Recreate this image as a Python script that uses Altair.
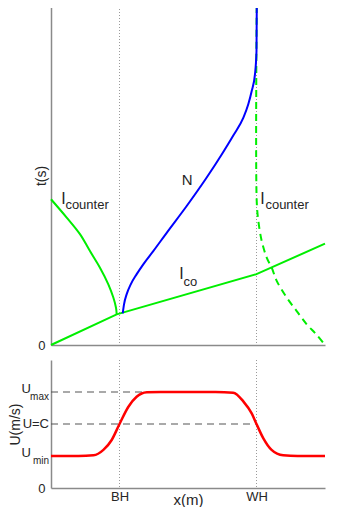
import altair as alt
import pandas as pd

# ---------------- data ----------------
# top panel (x in m, t in s)
icl_x = [0.0, 0.229, 0.423, 0.569, 0.715, 0.837, 0.910, 0.949, 0.959]
icl_t = [4.30, 3.76, 3.27, 2.77, 2.28, 1.79, 1.40, 1.10, 0.905]

ico_x = [0.0, 0.959, 3.0, 4.0]
ico_t = [0.0, 0.905, 2.09, 2.99]

n_x = [1.047, 1.066, 1.105, 1.164, 1.251, 1.347, 1.493, 1.689, 1.981, 2.273,
       2.492, 2.661, 2.807, 2.880, 2.930, 2.978, 3.0, 3.004]
n_t = [0.935, 1.20, 1.50, 1.79, 2.09, 2.38, 2.77, 3.31, 4.10, 4.94,
       5.62, 6.18, 6.70, 7.10, 7.49, 7.99, 8.67, 10.0]

icr_x = [3.003, 3.003, 3.027, 3.076, 3.149, 3.222, 3.295, 3.441, 3.587, 3.733, 3.879, 4.0]
icr_t = [10.0, 4.25, 3.66, 3.07, 2.58, 2.28, 1.89, 1.40, 1.00, 0.61, 0.30, 0.0]

# bottom panel (x in m, U in m/s)
red_x = [0.0, 0.4, 0.62, 0.765, 0.886, 1.0, 1.13, 1.25, 1.40, 1.6, 2.0, 2.4,
         2.66, 2.81, 2.93, 3.0, 3.10, 3.22, 3.39, 3.6, 4.0]
red_u = [1.0, 1.0, 1.02, 1.19, 1.5, 2.0, 2.54, 2.85, 2.99, 3.0, 3.0, 3.0,
         2.98, 2.70, 2.33, 2.0, 1.55, 1.19, 1.02, 1.0, 1.0]

marker_x = [1.0, 3.0]
marker_labels = ["BH", "WH"]

dash_u = [3.0, 2.0]
dash_end = [1.34, 3.0]

u_main_vals = [3.0, 1.0]
u_main_text = ["U", "U"]
u_sub_text = ["max", "min"]
u_c_val = [2.0]
u_c_text = ["U=C"]

# annotations in the top panel
lab_main_x = [0.15, 3.055, 1.873]
lab_main_t = [4.16, 4.16, 1.95]
lab_main_text = ["I", "I", "I"]
lab_sub_x = [0.21, 3.13, 1.934]
lab_sub_t = [4.0, 4.0, 1.74]
lab_sub_text = ["counter", "counter", "co"]
n_lab_x = [1.907]
n_lab_t = [4.72]
n_lab_text = ["N"]

# ---------------- chart ----------------
FONT = "Liberation Sans"
TXT = "#262626"
AX = "#8a8a8a"
W = 274
TOP_H = 339
BOT_H = 128

xs = alt.Scale(domain=[0, 4], nice=False, zero=False)
ts = alt.Scale(domain=[0, 10], nice=False)
us = alt.Scale(domain=[0, 4], nice=False)

top_x_axis = alt.Axis(labels=False, ticks=False, title=None, grid=False,
                      domainColor=AX, domainWidth=1.5, minExtent=0)
top_y_axis = alt.Axis(values=[0], ticks=False, grid=False, labelPadding=6,
                      labelFontSize=13, labelColor=TXT, labelFont=FONT,
                      title="t(s)", titleX=-3, titleFontSize=14,
                      titleFontWeight="normal", titleColor=TXT, titleFont=FONT,
                      domainColor=AX, domainWidth=1.5)

lab_expr = f"datum.value == {marker_x[0]} ? '{marker_labels[0]}' : '{marker_labels[1]}'"
bot_x_axis = alt.Axis(values=marker_x, labelExpr=lab_expr, ticks=False, grid=False,
                      labelPadding=2, labelFontSize=13, labelColor=TXT, labelFont=FONT,
                      title="x(m)", titleY=4, titleFontSize=15, titleFontWeight="normal",
                      titleColor=TXT, titleFont=FONT, domainColor=AX, domainWidth=1.5)
bot_y_axis = alt.Axis(values=[0], ticks=False, grid=False, labelPadding=6,
                      labelFontSize=13, labelColor=TXT, labelFont=FONT,
                      title="U(m/s)", titleX=-29, titleFontSize=14,
                      titleFontWeight="normal", titleColor=TXT, titleFont=FONT,
                      domainColor=AX, domainWidth=1.5)

XT = alt.X("x:Q", scale=xs, axis=top_x_axis)
YT = alt.Y("t:Q", scale=ts, axis=top_y_axis)
XB = alt.X("x:Q", scale=xs, axis=bot_x_axis)
YB = alt.Y("u:Q", scale=us, axis=bot_y_axis)


def sdf(xv, tv):
    return pd.DataFrame({"x": xv, "t": tv, "i": list(range(len(xv)))})


vdf = pd.DataFrame({"x": marker_x})

top_v = alt.Chart(vdf).mark_rule(color="#9a9a9a", strokeDash=[1, 2], strokeWidth=1).encode(x=XT)
top_icl = alt.Chart(sdf(icl_x, icl_t)).mark_line(color="#00ee00", strokeWidth=2,
                                                  interpolate="catmull-rom").encode(
    x=XT, y=YT, order="i:Q")
top_ico = alt.Chart(sdf(ico_x, ico_t)).mark_line(color="#00ee00", strokeWidth=2).encode(
    x=XT, y=YT, order="i:Q")
top_icr = alt.Chart(sdf(icr_x, icr_t)).mark_line(color="#00ee00", strokeWidth=2,
                                                  strokeDash=[7, 5],
                                                  interpolate="catmull-rom").encode(
    x=XT, y=YT, order="i:Q")
top_n = alt.Chart(sdf(n_x, n_t)).mark_line(color="#0000ff", strokeWidth=2,
                                            interpolate="monotone").encode(
    x=XT, y=YT, order="i:Q")

main_df = pd.DataFrame({"x": lab_main_x, "t": lab_main_t, "txt": lab_main_text})
sub_df = pd.DataFrame({"x": lab_sub_x, "t": lab_sub_t, "txt": lab_sub_text})
nl_df = pd.DataFrame({"x": n_lab_x, "t": n_lab_t, "txt": n_lab_text})

top_main = alt.Chart(main_df).mark_text(align="left", baseline="alphabetic", fontSize=16,
                                        font=FONT, color=TXT).encode(x=XT, y=YT, text="txt:N")
top_sub = alt.Chart(sub_df).mark_text(align="left", baseline="alphabetic", fontSize=13,
                                      font=FONT, color=TXT).encode(x=XT, y=YT, text="txt:N")
top_nl = alt.Chart(nl_df).mark_text(align="left", baseline="alphabetic", fontSize=15,
                                    font=FONT, color=TXT).encode(x=XT, y=YT, text="txt:N")

top = alt.layer(top_v, top_icr, top_icl, top_ico, top_n, top_main, top_sub, top_nl).properties(
    width=W, height=TOP_H)

# bottom panel
bot_v = alt.Chart(vdf).mark_rule(color="#9a9a9a", strokeDash=[1, 2], strokeWidth=1).encode(x=XB)
dash_df = pd.DataFrame({"x": [0.0] * len(dash_u), "x2": dash_end, "u": dash_u})
bot_dash = alt.Chart(dash_df).mark_rule(color="#555555", strokeDash=[7, 5], strokeWidth=1.2).encode(
    x=XB, x2="x2:Q", y=YB)
red_df = pd.DataFrame({"x": red_x, "u": red_u, "i": list(range(len(red_x)))})
bot_red = alt.Chart(red_df).mark_line(color="#ff0000", strokeWidth=2.5,
                                       interpolate="monotone").encode(x=XB, y=YB, order="i:Q")

um_df = pd.DataFrame({"x": [0.0] * len(u_main_vals), "u": u_main_vals,
                      "txt": u_main_text, "sub": u_sub_text})
bot_um = alt.Chart(um_df).mark_text(align="right", baseline="alphabetic", dx=-20, dy=1,
                                    fontSize=13, font=FONT, color=TXT).encode(
    x=XB, y=YB, text="txt:N")
bot_us = alt.Chart(um_df).mark_text(align="right", baseline="alphabetic", dx=-2, dy=8,
                                    fontSize=10, font=FONT, color=TXT).encode(
    x=XB, y=YB, text="sub:N")
uc_df = pd.DataFrame({"x": [0.0], "u": u_c_val, "txt": u_c_text})
bot_uc = alt.Chart(uc_df).mark_text(align="right", baseline="middle", dx=-2,
                                    fontSize=13, font=FONT, color=TXT).encode(
    x=XB, y=YB, text="txt:N")

bottom = alt.layer(bot_v, bot_dash, bot_red, bot_um, bot_us, bot_uc).properties(
    width=W, height=BOT_H)

pad = {"top": -6, "left": 0, "right": 0, "bottom": 0}
chart = alt.vconcat(top, bottom, spacing=7, padding=pad).configure(
    font=FONT, view=alt.ViewConfig(stroke=None))

chart.save("out.html", embed_options={"renderer": "svg", "actions": False})
